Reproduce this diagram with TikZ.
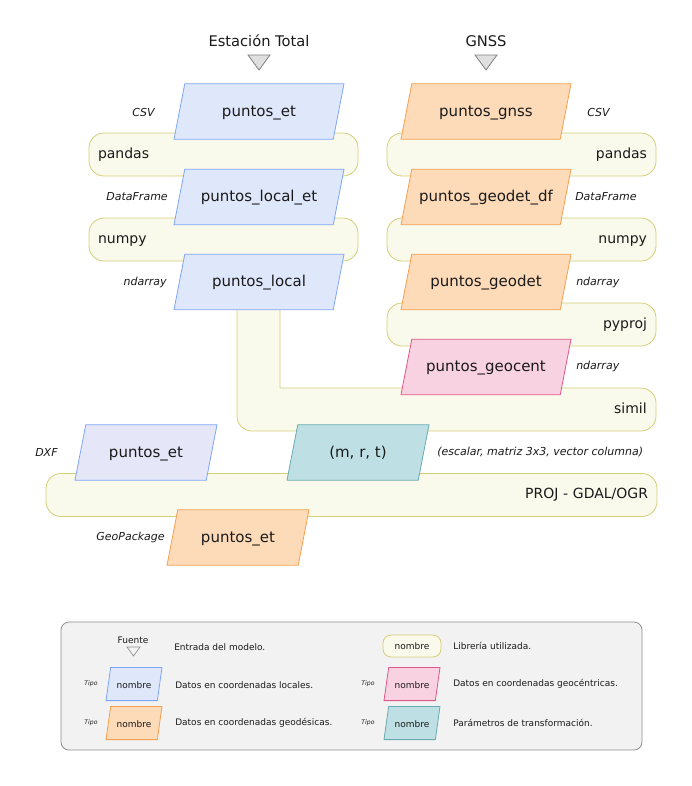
\documentclass[tikz,border=0pt]{standalone}
\usepackage{fontspec}
\setmainfont{DejaVu Sans}
\usetikzlibrary{shapes.geometric,positioning,calc}
\definecolor{locfill}{HTML}{DFE7FB}
\definecolor{locdraw}{HTML}{7EA6F8}
\definecolor{geofill}{HTML}{FDDAB8}
\definecolor{geodraw}{HTML}{F5A04E}
\definecolor{gcfill}{HTML}{F9D2E2}
\definecolor{gcdraw}{HTML}{E0558A}
\definecolor{parfill}{HTML}{BEE0E4}
\definecolor{pardraw}{HTML}{6AAAB2}
\definecolor{dxffill}{HTML}{E5E6F8}
\definecolor{libfill}{HTML}{F9F9EC}
\definecolor{libdraw}{HTML}{D3CF75}
\definecolor{legfill}{HTML}{F2F2F2}
\definecolor{legdraw}{HTML}{8E8E8E}
\definecolor{trifill}{HTML}{E0E0E0}
\definecolor{txt}{HTML}{1A1A1A}

\begin{document}
\begin{tikzpicture}[x=0.75pt,y=-0.75pt,text=txt,
	dato/.style={trapezium, trapezium left angle=79, trapezium right angle=101,
		trapezium stretches body=true, minimum width=127.5pt,
		inner xsep=0pt, inner ysep=15.9pt, line width=0.6pt, text height=0.85em, text depth=0.12em,
		font=\fontsize{11.25}{13}\selectfont},
	datoS/.style={dato, minimum width=106.5pt},
	datoL/.style={dato, minimum width=42pt, inner ysep=7.6pt,
		trapezium left angle=82, trapezium right angle=98,
		font=\fontsize{6.75}{8}\selectfont},
	loc/.style={draw=locdraw, fill=locfill},
	dxf/.style={draw=locdraw, fill=dxffill},
	geo/.style={draw=geodraw, fill=geofill},
	gc/.style={draw=gcdraw, fill=gcfill},
	par/.style={draw=pardraw, fill=parfill},
	libtxt/.style={text height=0.75em, text depth=0.22em, font=\fontsize{10.5}{12}\selectfont},
	lib/.style={libtxt, draw=libdraw, fill=libfill, line width=0.6pt, rounded corners=11.25pt,
		minimum height=32.25pt, inner xsep=6.75pt, text width=188.25pt},
	libL/.style={lib, align=left},
	libR/.style={lib, align=right},
	tag/.style={font=\fontsize{8.25}{10}\selectfont\itshape, inner sep=0pt},
	titulo/.style={font=\fontsize{11}{13}\selectfont},
	fuente/.style={draw=gray, fill=trifill, line width=0.6pt},
	leyenda/.style={font=\fontsize{6.75}{8}\selectfont, inner sep=0pt},
	tipo/.style={font=\fontsize{4.6}{5.5}\selectfont\itshape}]
	\useasboundingbox (0,0) rectangle (692,786);

	% fuentes
	\node[titulo] (et) at (259,41) {Estación Total};
	\node[titulo] (gnss) at (486,41) {GNSS};
	\draw[fuente] (248,55) -- (270,55) -- (259,70) -- cycle;
	\draw[fuente] (475,55) -- (497,55) -- (486,70) -- cycle;

	% librerias
	\node[libL] (pandasL) at (223.5,154.5) {pandas};
	\node[libL] (numpyL) at (223.5,239.5) {numpy};
	\node[libR] (pandasR) at (521.5,154.5) {pandas};
	\node[libR] (numpyR) at (521.5,239.5) {numpy};
	\node[libR] (pyprojR) at (521.5,324.5) {pyproj};
	\draw[draw=libdraw, fill=libfill, line width=0.6pt] (237,295) -- (237,416)
		arc[start angle=180, end angle=90, radius=15] -- (641,431)
		arc[start angle=90, end angle=0, radius=15] -- (656,403)
		arc[start angle=0, end angle=-90, radius=15] -- (280,388) -- (280,295) -- cycle;
	\node[libtxt, anchor=east, inner sep=0pt] (simil) at (647,410) {simil};
	\node[libR, text width=444.75pt] (proj) at (351.5,495) {PROJ - GDAL/OGR};

	% datos
	\node[dato, loc] (puntosEt) at (259,111.5) {puntos\_et};
	\node[dato, loc] (localEt) at (259,197) {puntos\_local\_et};
	\node[dato, loc] (local) at (259,282) {puntos\_local};
	\node[dato, geo] (puntosGnss) at (486,111.5) {puntos\_gnss};
	\node[dato, geo] (geodetDf) at (486,197) {puntos\_geodet\_df};
	\node[dato, geo] (geodet) at (486,282) {puntos\_geodet};
	\node[dato, gc] (geocent) at (486,367) {puntos\_geocent};
	\node[datoS, dxf] (salDxf) at (146,452.5) {puntos\_et};
	\node[datoS, par] (mrt) at (358,452.5) {(m, r, t)};
	\node[datoS, geo] (salGpkg) at (238,537.5) {puntos\_et};

	% tipos
	\node[tag, anchor=east] (csvL) at (155,112) {CSV};
	\node[tag, anchor=east] (dfL) at (168,197) {DataFrame};
	\node[tag, anchor=east] (ndL) at (167,282) {ndarray};
	\node[tag, anchor=west] (csvR) at (587,112) {CSV};
	\node[tag, anchor=west] (dfR) at (575,197) {DataFrame};
	\node[tag, anchor=west] (ndR) at (576,282) {ndarray};
	\node[tag, anchor=west] (ndGc) at (576,366) {ndarray};
	\node[tag, anchor=west] (dxfT) at (35,452) {DXF};
	\node[tag, anchor=west] (mrtT) at (437,452) {(escalar, matriz 3x3, vector columna)};
	\node[tag, anchor=east] (gpkgT) at (165,537) {GeoPackage};

	% leyenda
	\draw[draw=legdraw, fill=legfill, line width=0.6pt, rounded corners=6pt] (61,622) rectangle (642,750);
	\node[leyenda] (lFuente) at (133,640) {Fuente};
	\draw[draw=legdraw, line width=0.5pt] (127,647) -- (140,647) -- (133.5,656) -- cycle;
	\node[leyenda, anchor=west] (lFuenteT) at (174,647) {Entrada del modelo.};
	\node[lib, text width=, minimum width=43.5pt, minimum height=15pt, inner xsep=0pt,
		rounded corners=6pt, font=\fontsize{6.75}{8}\selectfont] (lLib) at (412,646) {nombre};
	\node[leyenda, anchor=west] (lLibT) at (453,646) {Librería utilizada.};
	\node[datoL, loc] (lLoc) at (134,684) {nombre};
	\node[tipo] at (91,684) {Tipo};
	\node[leyenda, anchor=west] (lLocT) at (175,685) {Datos en coordenadas locales.};
	\node[datoL, geo] (lGeo) at (134,723) {nombre};
	\node[tipo] at (91,723) {Tipo};
	\node[leyenda, anchor=west] (lGeoT) at (175,723) {Datos en coordenadas geodésicas.};
	\node[datoL, gc] (lGc) at (412,684) {nombre};
	\node[tipo] at (368,684) {Tipo};
	\node[leyenda, anchor=west] (lGcT) at (453,684) {Datos en coordenadas geocéntricas.};
	\node[datoL, par] (lPar) at (412,723) {nombre};
	\node[tipo] at (368,723) {Tipo};
	\node[leyenda, anchor=west] (lParT) at (453,723) {Parámetros de transformación.};
\end{tikzpicture}
\end{document}
